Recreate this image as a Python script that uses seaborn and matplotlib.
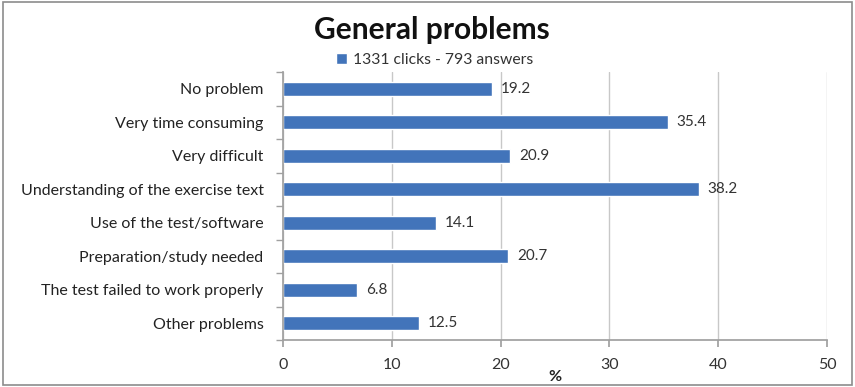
import matplotlib
matplotlib.use("Agg")
import matplotlib.pyplot as plt
import seaborn as sns
import pandas as pd
from matplotlib.patches import Rectangle

categories = ["No problem", "Very time consuming", "Very difficult",
              "Understanding of the exercise text", "Use of the test/software",
              "Preparation/study needed", "The test failed to work properly",
              "Other problems"]
values = [19.2, 35.4, 20.9, 38.2, 14.1, 20.7, 6.8, 12.5]
series_name = "1331 clicks - 793 answers"
x_ticks = [0, 10, 20, 30, 40, 50]

sns.set_theme(style="white")
plt.rcParams['font.family'] = ['Lato', 'DejaVu Sans']

df = pd.DataFrame({"category": categories, "value": values})

fig = plt.figure(figsize=(8.55, 3.87), dpi=100)
ax = fig.add_axes([283/855, 1-340/387, (827-283)/855, (340-72)/387])

color = "#4274BA"
sns.barplot(data=df, x="value", y="category", orient="h", color=color,
            width=0.42, ax=ax, saturation=1, label=series_name)

ax.set_xlim(0, 50)
ax.set_xticks(x_ticks)
ax.set_ylim(len(categories) - 0.5, -0.5)
ax.grid(axis="x", color="#c8c8c8", linewidth=1)
ax.set_axisbelow(True)
for s in ["top", "right"]:
    ax.spines[s].set_visible(False)
ax.spines["left"].set_color("#a0a0a0")
ax.spines["bottom"].set_color("#a0a0a0")

ax.tick_params(axis="x", which="major", bottom=True, length=5, color="#a0a0a0",
               labelsize=11.5, labelcolor="#333333", pad=8)
ax.tick_params(axis="y", which="major", left=False, labelsize=11.5,
               labelcolor="#222222", pad=8)
ax.set_yticks(range(len(categories)), minor=False)
ax.set_yticks([i - 0.5 for i in range(len(categories) + 1)], minor=True)
ax.tick_params(axis="y", which="minor", left=True, length=5, color="#a0a0a0")

ax.set_ylabel("")
ax.set_xlabel("")
fig.text(555/855, 1-377/387, "%", ha="center", va="center",
         fontsize=11.5, fontweight="bold", color="#222222")

for i, v in enumerate(values):
    ax.text(v + 0.8, i, f"{v}", va="center", ha="left", fontsize=11, color="#333333")

fig.text(0.505, 0.922, "General problems", ha="center", va="center",
         fontsize=21.5, fontweight="bold", color="#111111")
leg = fig.legend(*ax.get_legend_handles_labels(), loc="center",
                 bbox_to_anchor=(0.508, 0.845), frameon=False, fontsize=11.3,
                 handlelength=0.7, handleheight=0.7, handletextpad=0.4)
if ax.get_legend():
    ax.get_legend().remove()
for t in leg.get_texts():
    t.set_color("#333333")

fig.patches.append(Rectangle((0.003, 0.005), 0.994, 0.99, transform=fig.transFigure,
                             fill=False, edgecolor="#8c8c8c", linewidth=1.2))

fig.savefig("out.png", dpi=100)
